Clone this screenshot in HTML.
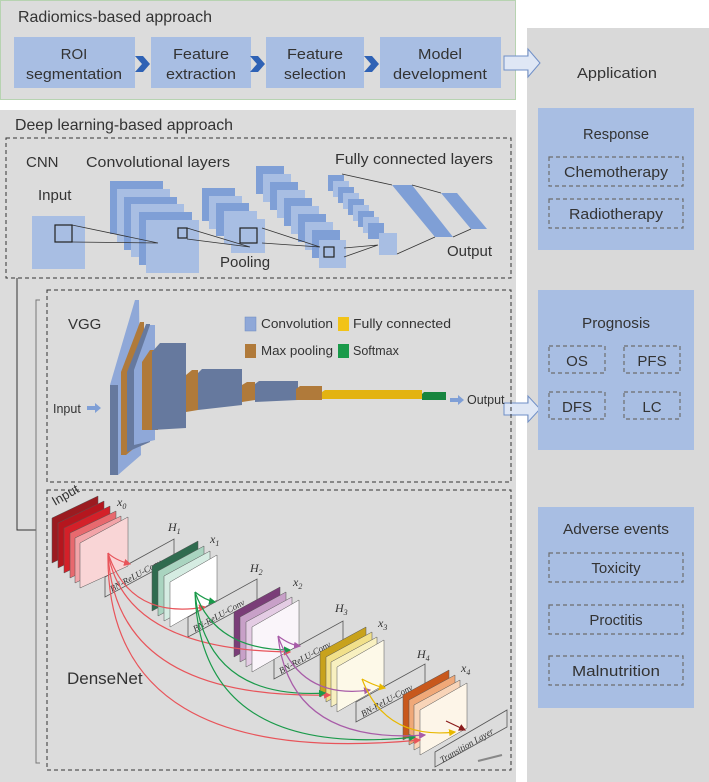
<!DOCTYPE html>
<html><head><meta charset="utf-8"><style>
html,body{margin:0;padding:0;background:#fff;}
svg{display:block;font-family:"Liberation Sans",sans-serif;}
</style></head><body>
<svg width="709" height="782" viewBox="0 0 709 782" xmlns="http://www.w3.org/2000/svg">
<defs>
<marker id="ar" markerWidth="6" markerHeight="6" refX="5" refY="3" orient="auto"><path d="M0,0L6,3L0,6z" fill="context-stroke"/></marker>
</defs>
<!-- panels -->
<rect x="0.5" y="0.5" width="515" height="99" fill="#dcdcdc" stroke="#b7d3b1"/>
<rect x="0" y="110" width="516" height="672" fill="#dcdcdc"/>
<rect x="527" y="28" width="182" height="754" fill="#d9d9d9"/>

<g fill="#333">
<text x="18" y="22" font-size="16" textLength="194" lengthAdjust="spacingAndGlyphs">Radiomics-based approach</text>
<text x="15" y="130" font-size="16" textLength="218" lengthAdjust="spacingAndGlyphs">Deep learning-based approach</text>
</g>

<!-- radiomics boxes -->
<g fill="#a8bee3">
<rect x="14" y="37" width="121" height="51"/>
<rect x="151" y="37" width="100" height="51"/>
<rect x="266" y="37" width="98" height="51"/>
<rect x="380" y="37" width="121" height="51"/>
</g>
<g fill="#2f62b5">
<path d="M135,56h8l7,8l-7,8h-8l7,-8z"/>
<path d="M250,56h8l7,8l-7,8h-8l7,-8z"/>
<path d="M364,56h8l7,8l-7,8h-8l7,-8z"/>
</g>
<g fill="#333" font-size="15" text-anchor="middle">
<text x="74" y="59">ROI</text><text x="74" y="79" textLength="96" lengthAdjust="spacingAndGlyphs">segmentation</text>
<text x="201" y="59" textLength="56" lengthAdjust="spacingAndGlyphs">Feature</text><text x="201" y="79" textLength="70" lengthAdjust="spacingAndGlyphs">extraction</text>
<text x="315" y="59" textLength="56" lengthAdjust="spacingAndGlyphs">Feature</text><text x="315" y="79" textLength="62" lengthAdjust="spacingAndGlyphs">selection</text>
<text x="440" y="59" textLength="44" lengthAdjust="spacingAndGlyphs">Model</text><text x="440" y="79" textLength="94" lengthAdjust="spacingAndGlyphs">development</text>
</g>
<!-- hollow arrows -->
<path d="M504,56h24v-7l12,14l-12,14v-7h-24z" fill="#dfe7f5" stroke="#6f8fc8"/>
<path d="M504,403h24v-7l12,13l-12,13v-7h-24z" fill="#dfe7f5" stroke="#6f8fc8"/>

<!-- right side -->
<text x="617" y="78" font-size="15" fill="#333" text-anchor="middle" textLength="80" lengthAdjust="spacingAndGlyphs">Application</text>
<rect x="538" y="108" width="156" height="142" fill="#a8bee3"/>
<rect x="538" y="290" width="156" height="160" fill="#a8bee3"/>
<rect x="538" y="507" width="156" height="201" fill="#a8bee3"/>
<g fill="none" stroke="#6d6d6d" stroke-dasharray="4,3" stroke-width="1.2">
<rect x="549" y="157" width="134" height="29"/><rect x="549" y="199" width="134" height="29"/>
<rect x="549" y="346" width="56" height="27"/><rect x="624" y="346" width="56" height="27"/>
<rect x="549" y="392" width="56" height="27"/><rect x="624" y="392" width="56" height="27"/>
<rect x="549" y="553" width="134" height="29"/><rect x="549" y="605" width="134" height="29"/><rect x="549" y="656" width="134" height="29"/>
</g>
<g fill="#333" font-size="15" text-anchor="middle">
<text x="616" y="139" textLength="66" lengthAdjust="spacingAndGlyphs">Response</text>
<text x="616" y="177" textLength="104" lengthAdjust="spacingAndGlyphs">Chemotherapy</text>
<text x="616" y="219" textLength="94" lengthAdjust="spacingAndGlyphs">Radiotherapy</text>
<text x="616" y="328" textLength="68" lengthAdjust="spacingAndGlyphs">Prognosis</text>
<text x="577" y="366">OS</text><text x="652" y="366">PFS</text>
<text x="577" y="412">DFS</text><text x="652" y="412">LC</text>
<text x="616" y="534" textLength="106" lengthAdjust="spacingAndGlyphs">Adverse events</text>
<text x="616" y="573">Toxicity</text><text x="616" y="625">Proctitis</text>
<text x="616" y="676" textLength="88" lengthAdjust="spacingAndGlyphs">Malnutrition</text>
</g>

<!-- dashed containers -->
<g fill="none" stroke="#333" stroke-dasharray="4,3" stroke-width="1">
<rect x="6" y="138" width="505" height="140"/>
<rect x="47" y="290" width="464" height="192"/>
<rect x="47" y="490" width="464" height="280"/>
</g>
<path d="M17,278V530H36" fill="none" stroke="#333"/>
<path d="M40,300H36V763H40" fill="none" stroke="#777"/>

<!-- CNN -->
<g fill="#333" font-size="15">
<text x="26" y="167">CNN</text>
<text x="86" y="167" textLength="144" lengthAdjust="spacingAndGlyphs">Convolutional layers</text>
<text x="335" y="164" textLength="158" lengthAdjust="spacingAndGlyphs">Fully connected layers</text>
<text x="38" y="200">Input</text>
<text x="220" y="267">Pooling</text>
<text x="447" y="256">Output</text>
</g>
<rect x="32" y="216" width="53" height="53" fill="#a8bee3"/>
<g>
<rect x="110" y="181" width="53" height="53" fill="#7f9fd6"/>
<rect x="117" y="189" width="53" height="53" fill="#a8bee3"/>
<rect x="124" y="197" width="53" height="53" fill="#7f9fd6"/>
<rect x="131" y="204" width="53" height="53" fill="#a8bee3"/>
<rect x="139" y="212" width="53" height="53" fill="#7f9fd6"/>
<rect x="146" y="220" width="53" height="53" fill="#a8bee3"/>
</g>
<g>
<rect x="202" y="188" width="33" height="33" fill="#7f9fd6"/>
<rect x="209" y="196" width="33" height="33" fill="#a8bee3"/>
<rect x="216" y="203" width="33" height="33" fill="#7f9fd6"/>
<rect x="224" y="211" width="33" height="33" fill="#a8bee3"/>
<rect x="231" y="219" width="34" height="34" fill="#a8bee3"/>
</g>
<g>
<rect x="256" y="166" width="28" height="28" fill="#7f9fd6"/>
<rect x="263" y="174" width="28" height="28" fill="#a8bee3"/>
<rect x="270" y="182" width="28" height="28" fill="#7f9fd6"/>
<rect x="277" y="190" width="28" height="28" fill="#a8bee3"/>
<rect x="284" y="198" width="28" height="28" fill="#7f9fd6"/>
<rect x="291" y="206" width="28" height="28" fill="#a8bee3"/>
<rect x="298" y="214" width="28" height="28" fill="#7f9fd6"/>
<rect x="305" y="222" width="28" height="28" fill="#a8bee3"/>
<rect x="312" y="230" width="28" height="28" fill="#7f9fd6"/>
<rect x="319" y="240" width="27" height="28" fill="#a8bee3"/>
</g>
<g>
<rect x="328" y="175" width="16" height="16" fill="#7f9fd6"/>
<rect x="333" y="181" width="16" height="16" fill="#a8bee3"/>
<rect x="338" y="187" width="16" height="16" fill="#7f9fd6"/>
<rect x="343" y="193" width="16" height="16" fill="#a8bee3"/>
<rect x="348" y="199" width="16" height="16" fill="#7f9fd6"/>
<rect x="353" y="205" width="16" height="16" fill="#a8bee3"/>
<rect x="358" y="211" width="16" height="16" fill="#7f9fd6"/>
<rect x="363" y="217" width="16" height="16" fill="#a8bee3"/>
<rect x="368" y="223" width="16" height="16" fill="#7f9fd6"/>
<rect x="379" y="233" width="18" height="22" fill="#a8bee3"/>
</g>
<polygon points="392,185 412,185 453,237 435,237" fill="#7f9fd6"/>
<polygon points="441,193 457,193 487,229 471,229" fill="#7f9fd6"/>
<g fill="none" stroke="#333" stroke-width="0.8">
<path d="M342,174L392,185M412,185L441,193M397,254L435,237M453,237L471,229"/>
<path d="M72,225L158,243M72,242L158,243"/>
<path d="M187,228L250,247M187,239L250,247"/>
<path d="M262,228L320,247M262,243L320,247"/>
<path d="M344,248L378,245M344,257L378,245"/>
</g>
<g fill="none" stroke="#222" stroke-width="1.2">
<rect x="55" y="225" width="17" height="17"/>
<rect x="178" y="228" width="9" height="10"/>
<rect x="240" y="228" width="17" height="15"/>
<rect x="324" y="247" width="10" height="10"/>
</g>

<!-- VGG -->
<text x="68" y="329" font-size="15" fill="#333">VGG</text>
<g font-size="12.5" fill="#333">
<rect x="245" y="317" width="11" height="14" fill="#8fa8d8" stroke="#6f8ac0" stroke-width="0.5"/>
<text x="261" y="328" textLength="72" lengthAdjust="spacingAndGlyphs">Convolution</text>
<rect x="338" y="317" width="11" height="14" fill="#f2c318"/>
<text x="353" y="328" textLength="98" lengthAdjust="spacingAndGlyphs">Fully connected</text>
<rect x="245" y="344" width="11" height="14" fill="#b07a3a"/>
<text x="261" y="355" textLength="72" lengthAdjust="spacingAndGlyphs">Max pooling</text>
<rect x="338" y="344" width="11" height="14" fill="#1a9a4a"/>
<text x="353" y="355">Softmax</text>
<text x="53" y="413">Input</text>
<text x="467" y="404">Output</text>
</g>
<path d="M87,406h8v-3l6,5l-6,5v-3h-8z" fill="#7f9fd6"/>
<path d="M450,398h8v-3l6,5l-6,5v-3h-8z" fill="#7f9fd6"/>
<polygon points="110,475 110,385 135,300 139,300 141,455 118,475" fill="#8fa8d8"/>
<polygon points="110,475 110,385 118,385 118,475" fill="#66799e"/>
<polygon points="121,455 121,372 140,322 144,322 144,440 126,455" fill="#b07a3a"/>
<polygon points="127,452 127,372 146,324 150,324 150,442" fill="#66799e"/>
<polygon points="134,445 134,370 150,325 155,325 155,440" fill="#8fa8d8"/>
<polygon points="142,430 142,362 150,350 158,350 158,430" fill="#b07a3a"/>
<polygon points="152,430 152,352 160,343 186,343 186,428" fill="#66799e"/>
<polygon points="186,412 186,375 192,370 198,370 198,410" fill="#b07a3a"/>
<polygon points="198,410 198,373 202,369 242,369 242,405" fill="#66799e"/>
<polygon points="242,402 242,385 247,382 255,382 255,400" fill="#b07a3a"/>
<polygon points="255,402 255,384 259,381 298,381 298,400" fill="#66799e"/>
<polygon points="296,400 296,389 300,386 322,386 322,400" fill="#b07a3a"/>
<polygon points="322,399 322,392 325,390 422,390 422,399" fill="#e3b311"/>
<polygon points="422,400 422,394 424,392 446,392 446,400" fill="#17853f"/>

<!-- DenseNet -->
<text x="67" y="684" font-size="17" fill="#333">DenseNet</text>
<g font-size="12" fill="#333" font-style="italic" font-family="Liberation Serif,serif">
<text x="55" y="506" transform="rotate(-30 55 506)" font-style="normal" font-family="Liberation Sans,sans-serif" font-size="13">Input</text>
<text x="117" y="506">x<tspan font-size="8" dy="3">0</tspan></text>
<text x="168" y="531">H<tspan font-size="8" dy="3">1</tspan></text>
<text x="210" y="543">x<tspan font-size="8" dy="3">1</tspan></text>
<text x="250" y="572">H<tspan font-size="8" dy="3">2</tspan></text>
<text x="293" y="586">x<tspan font-size="8" dy="3">2</tspan></text>
<text x="335" y="612">H<tspan font-size="8" dy="3">3</tspan></text>
<text x="378" y="627">x<tspan font-size="8" dy="3">3</tspan></text>
<text x="417" y="658">H<tspan font-size="8" dy="3">4</tspan></text>
<text x="461" y="672">x<tspan font-size="8" dy="3">4</tspan></text>
</g>
<!-- BN-ReLU-Conv parallelograms -->
<g fill="#dcdcdc" stroke="#555" stroke-width="0.8">
<polygon points="105,597 105,577 174,539 174,560"/>
<polygon points="188,637 188,617 257,579 257,600"/>
<polygon points="274,679 274,659 343,621 343,642"/>
<polygon points="356,722 356,702 425,664 425,685"/>
<polygon points="435,767 435,752 507,710 507,727"/>
</g>
<g font-size="9" fill="#333" font-style="italic" font-family="Liberation Serif,serif">
<text x="112" y="592" transform="rotate(-29 112 592)">BN-ReLU-Conv</text>
<text x="195" y="632" transform="rotate(-29 195 632)">BN-ReLU-Conv</text>
<text x="281" y="674" transform="rotate(-29 281 674)">BN-ReLU-Conv</text>
<text x="363" y="717" transform="rotate(-29 363 717)">BN-ReLU-Conv</text>
<text x="442" y="763" transform="rotate(-30 442 763)">Transition Layer</text>
</g>
<g stroke="#555" stroke-width="0.5">
<!-- x0 -->
<polygon points="52,563 52,518 98,496 98,541" fill="#9b1b20"/>
<polygon points="58,568 58,523 104,501 104,546" fill="#b5161e"/>
<polygon points="64,573 64,528 110,506 110,551" fill="#d42029"/>
<polygon points="70,578 70,533 116,511 116,556" fill="#e8696e"/>
<polygon points="75,583 75,538 121,516 121,561" fill="#f2a4a8"/>
<polygon points="80,588 80,543 128,517 128,566" fill="#f9d5d6"/>
<!-- x1 -->
<polygon points="152,611 152,566 198,541 198,586" fill="#2f6b4f"/>
<polygon points="158,616 158,571 204,546 204,591" fill="#a9d4c0"/>
<polygon points="164,621 164,576 210,551 210,596" fill="#d5ece2"/>
<polygon points="170,627 170,582 217,555 217,600" fill="#ffffff"/>
<!-- x2 -->
<polygon points="234,657 234,612 280,587 280,632" fill="#7a3d78"/>
<polygon points="240,662 240,617 286,592 286,637" fill="#c8a0c8"/>
<polygon points="246,667 246,622 292,597 292,642" fill="#e4cce4"/>
<polygon points="252,672 252,627 299,600 299,645" fill="#faf5fa"/>
<!-- x3 -->
<polygon points="320,697 320,652 366,627 366,672" fill="#c8a21c"/>
<polygon points="326,702 326,657 372,632 372,677" fill="#f1e08a"/>
<polygon points="331,707 331,662 377,637 377,682" fill="#f8f0c0"/>
<polygon points="337,712 337,667 384,640 384,685" fill="#fdf9e8"/>
<!-- x4 -->
<polygon points="403,740 403,695 449,670 449,715" fill="#c8581c"/>
<polygon points="409,745 409,700 455,675 455,720" fill="#f0a878"/>
<polygon points="414,750 414,705 460,680 460,725" fill="#f8d4b8"/>
<polygon points="420,755 420,710 467,683 467,728" fill="#fdf5e8"/>
</g>
<path d="M478,761L502,755" stroke="#888" stroke-width="2"/>
<g fill="none" stroke-width="1.2" marker-end="url(#ar)">
<path d="M108,553Q115,560 130,564" stroke="#e8545a"/>
<path d="M108,553Q130,620 205,607" stroke="#e8545a"/>
<path d="M108,553Q125,650 290,652" stroke="#e8545a"/>
<path d="M108,553Q115,700 330,695" stroke="#e8545a"/>
<path d="M108,553Q105,770 420,740" stroke="#e8545a"/>
<path d="M195,592Q205,600 215,602" stroke="#1a9a4a"/>
<path d="M195,592Q215,650 290,650" stroke="#1a9a4a"/>
<path d="M195,592Q205,700 325,693" stroke="#1a9a4a"/>
<path d="M195,592Q200,760 415,737" stroke="#1a9a4a"/>
<path d="M278,636Q290,645 300,646" stroke="#a85ca8"/>
<path d="M278,636Q300,700 370,690" stroke="#a85ca8"/>
<path d="M278,636Q290,745 425,735" stroke="#a85ca8"/>
<path d="M362,679Q375,686 385,688" stroke="#e8b800"/>
<path d="M362,679Q385,740 455,732" stroke="#e8b800"/>
<path d="M446,721L465,730" stroke="#8a1a1a"/>
</g>
</svg>
</body></html>
